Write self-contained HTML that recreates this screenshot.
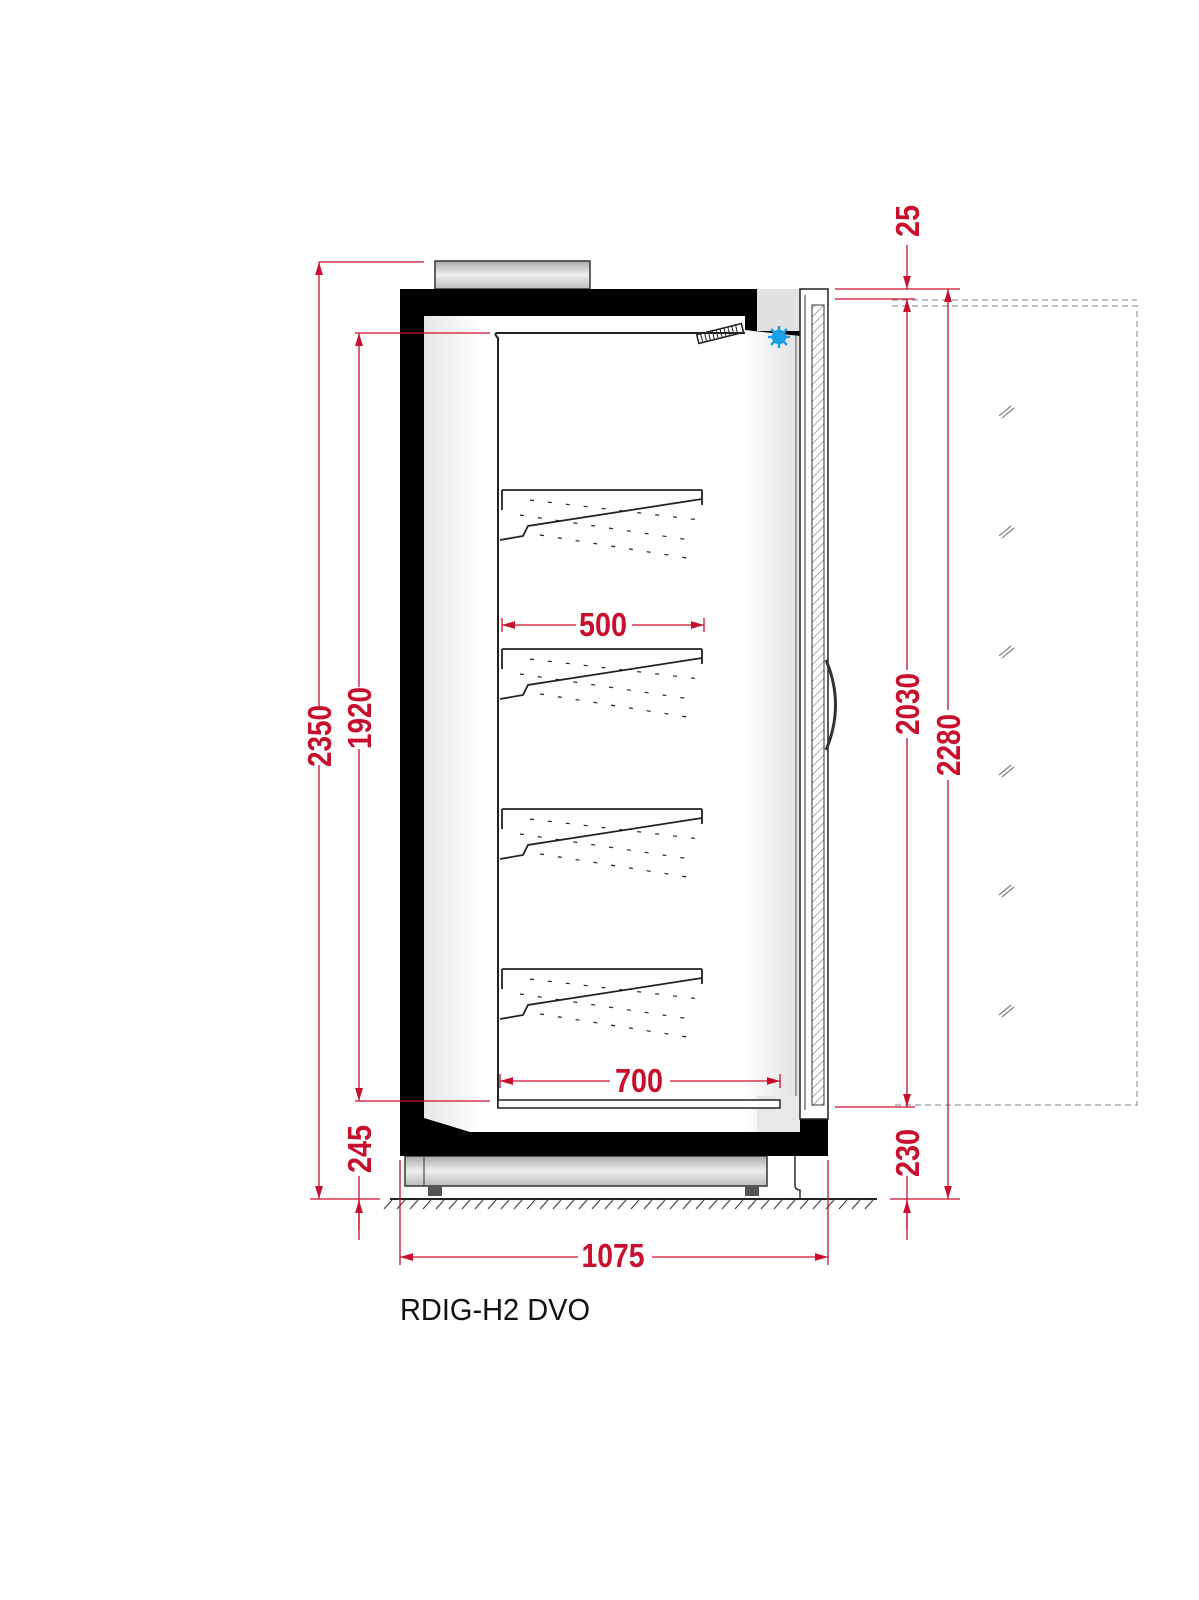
<!DOCTYPE html>
<html><head><meta charset="utf-8"><style>
html,body{margin:0;padding:0;background:#fff;}
svg{display:block;}
.d{font-family:"Liberation Sans",sans-serif;font-weight:bold;fill:#c8102e;font-size:33px;}
</style></head><body>
<svg width="1199" height="1600" viewBox="0 0 1199 1600" xmlns="http://www.w3.org/2000/svg">
<defs>
<linearGradient id="g1" x1="0" y1="0" x2="0" y2="1"><stop offset="0" stop-color="#aaa"/><stop offset="0.5" stop-color="#eee"/><stop offset="1" stop-color="#bbb"/></linearGradient>
<linearGradient id="g2" x1="0" y1="0" x2="1" y2="0"><stop offset="0" stop-color="#e6e6e6"/><stop offset="0.15" stop-color="#fff"/><stop offset="0.85" stop-color="#fff"/><stop offset="1" stop-color="#e0e0e0"/></linearGradient>
<pattern id="hatch" width="6" height="6" patternUnits="userSpaceOnUse" patternTransform="rotate(45)"><line x1="0" y1="0" x2="0" y2="6" stroke="#777" stroke-width="1.2"/></pattern>
<marker id="ar" viewBox="0 0 10 10" refX="10" refY="5" markerWidth="14" markerHeight="10" orient="auto-start-reverse"><path d="M0,2 L10,5 L0,8 z" fill="#c8102e"/></marker>
</defs>

<rect x="435" y="261" width="155" height="28" fill="url(#g1)" stroke="#333" stroke-width="1.5"/>
<rect x="405" y="1156" width="362" height="30" fill="url(#g1)" stroke="#333" stroke-width="1.5"/>
<line x1="424" y1="1156" x2="424" y2="1186" stroke="#333"/>
<rect x="428" y="1186" width="14" height="10" fill="#555"/>
<rect x="745" y="1186" width="14" height="10" fill="#555"/>
<path d="M795,1156 V1185 Q795,1190 800,1190 V1199" fill="none" stroke="#333" stroke-width="1.5"/>

<rect x="400" y="289" width="428" height="867" fill="#000"/>
<path d="M424,316 H745 V330 L800,336 L800,1132 H470 L424,1118 Z" fill="url(#g2)"/>
<rect x="757" y="289" width="43" height="42" fill="#e2e2e2"/>
<rect x="757" y="1096" width="43" height="36" fill="#e8e8e8"/>
<line x1="796" y1="336" x2="796" y2="1096" stroke="#555" stroke-width="1"/>
<rect x="800" y="289" width="28" height="830" fill="#fff" stroke="#222" stroke-width="1.5"/>
<rect x="812" y="305" width="12" height="800" fill="url(#hatch)" stroke="#333" stroke-width="1"/>
<line x1="805" y1="295" x2="805" y2="1110" stroke="#333"/>
<path d="M826,660 Q845,705 826,750" fill="none" stroke="#333" stroke-width="3"/>
<g transform="rotate(-14 720 333)"><rect x="697" y="329" width="46" height="9" fill="#fff" stroke="#222" stroke-width="1.5"/><path d="M701,329v9M705,329v9M709,329v9M713,329v9M717,329v9M721,329v9M725,329v9M729,329v9M733,329v9M737,329v9" stroke="#222"/></g>
<g transform="translate(779 337)" stroke="#1aa0e8" stroke-width="2.5"><circle r="6" fill="#1aa0e8"/><path d="M0,-11V11M-11,0H11M-8,-8L8,8M-8,8L8,-8"/></g>

<path d="M498,1107 V338 Q493,333 498,333 H745" fill="none" stroke="#222" stroke-width="2"/>
<rect x="498" y="1100" width="282" height="8" fill="#fff" stroke="#222" stroke-width="1.5"/>

<g id="sh" fill="none" stroke="#222" stroke-width="1.8">
<line x1="502" y1="490" x2="702" y2="490"/>
<line x1="502" y1="490" x2="502" y2="510"/>
<line x1="702" y1="490" x2="702" y2="505"/>
<path d="M702,499 L528,526 L523,536 L500,540"/>
<g stroke-width="1.2" stroke-dasharray="4 14"><path d="M530,500 L700,520"/><path d="M540,535 L700,560"/><path d="M520,515 L690,540"/></g>
</g>
<use href="#sh" y="159"/>
<use href="#sh" y="319"/>
<use href="#sh" y="479"/>

<line x1="390" y1="1199" x2="877" y2="1199" stroke="#222" stroke-width="2"/>
<g stroke="#444" stroke-width="1.2">
<path d="M392,1200l-8,9M405,1200l-8,9M418,1200l-8,9M431,1200l-8,9M444,1200l-8,9M457,1200l-8,9M470,1200l-8,9M483,1200l-8,9M496,1200l-8,9M509,1200l-8,9M522,1200l-8,9M535,1200l-8,9M548,1200l-8,9M561,1200l-8,9M574,1200l-8,9M587,1200l-8,9M600,1200l-8,9M613,1200l-8,9M626,1200l-8,9M639,1200l-8,9M652,1200l-8,9M665,1200l-8,9M678,1200l-8,9M691,1200l-8,9M704,1200l-8,9M717,1200l-8,9M730,1200l-8,9M743,1200l-8,9M756,1200l-8,9M769,1200l-8,9M782,1200l-8,9M795,1200l-8,9M808,1200l-8,9M821,1200l-8,9M834,1200l-8,9M847,1200l-8,9M860,1200l-8,9M873,1200l-8,9"/>
</g>

<g fill="none" stroke="#999" stroke-width="1.2" stroke-dasharray="6 4">
<path d="M892,300 H1137"/><path d="M892,306 H1137 V1105 H892"/>
</g>
<g stroke="#666" stroke-width="1">
<path d="M999,416l12,-10M1002,418l12,-10"/><path d="M999,536l12,-10M1002,538l12,-10"/><path d="M999,656l12,-10M1002,658l12,-10"/><path d="M999,775l12,-10M1002,777l12,-10"/><path d="M999,895l12,-10M1002,897l12,-10"/><path d="M999,1015l12,-10M1002,1017l12,-10"/>
</g>

<g stroke="#c8102e" stroke-width="1.3" fill="none">
<line x1="319" y1="262" x2="424" y2="262"/>
<line x1="355" y1="333" x2="490" y2="333"/>
<line x1="355" y1="1101" x2="490" y2="1101"/>
<line x1="310" y1="1199" x2="380" y2="1199"/>
<line x1="319" y1="262" x2="319" y2="708" marker-start="url(#ar)"/>
<line x1="319" y1="765" x2="319" y2="1199" marker-end="url(#ar)"/>
<line x1="359" y1="333" x2="359" y2="687" marker-start="url(#ar)"/>
<line x1="359" y1="749" x2="359" y2="1101" marker-end="url(#ar)"/>
<line x1="359" y1="1176" x2="359" y2="1240"/>
<line x1="359" y1="1230" x2="359" y2="1200" marker-end="url(#ar)"/>
<line x1="400" y1="1160" x2="400" y2="1265"/>
<line x1="828" y1="1160" x2="828" y2="1265"/>
<line x1="400" y1="1257" x2="578" y2="1257" marker-start="url(#ar)"/>
<line x1="652" y1="1257" x2="828" y2="1257" marker-end="url(#ar)"/>
<line x1="502" y1="618" x2="502" y2="632"/><line x1="704" y1="618" x2="704" y2="632"/>
<line x1="502" y1="625" x2="576" y2="625" marker-start="url(#ar)"/>
<line x1="632" y1="625" x2="704" y2="625" marker-end="url(#ar)"/>
<line x1="500" y1="1074" x2="500" y2="1088"/><line x1="780" y1="1074" x2="780" y2="1088"/>
<line x1="500" y1="1081" x2="610" y2="1081" marker-start="url(#ar)"/>
<line x1="670" y1="1081" x2="780" y2="1081" marker-end="url(#ar)"/>
<line x1="835" y1="289" x2="960" y2="289"/>
<line x1="835" y1="299" x2="915" y2="299"/>
<line x1="835" y1="1107" x2="915" y2="1107"/>
<line x1="890" y1="1199" x2="960" y2="1199"/>
<line x1="907" y1="245" x2="907" y2="289" marker-end="url(#ar)"/>
<line x1="907" y1="299" x2="907" y2="670" marker-start="url(#ar)"/>
<line x1="907" y1="738" x2="907" y2="1107" marker-end="url(#ar)"/>
<line x1="907" y1="1176" x2="907" y2="1240"/>
<line x1="907" y1="1230" x2="907" y2="1200" marker-end="url(#ar)"/>
<line x1="948" y1="289" x2="948" y2="710" marker-start="url(#ar)"/>
<line x1="948" y1="780" x2="948" y2="1199" marker-end="url(#ar)"/>
</g>

<text class="d" x="613" y="1267" text-anchor="middle" textLength="63" lengthAdjust="spacingAndGlyphs">1075</text>
<text class="d" x="603" y="636" text-anchor="middle" textLength="48" lengthAdjust="spacingAndGlyphs">500</text>
<text class="d" x="639" y="1092" text-anchor="middle" textLength="48" lengthAdjust="spacingAndGlyphs">700</text>
<text class="d" transform="translate(331 736) rotate(-90)" text-anchor="middle" textLength="62" lengthAdjust="spacingAndGlyphs">2350</text>
<text class="d" transform="translate(371 718) rotate(-90)" text-anchor="middle" textLength="62" lengthAdjust="spacingAndGlyphs">1920</text>
<text class="d" transform="translate(371 1149) rotate(-90)" text-anchor="middle" textLength="48" lengthAdjust="spacingAndGlyphs">245</text>
<text class="d" transform="translate(919 221) rotate(-90)" text-anchor="middle" textLength="32" lengthAdjust="spacingAndGlyphs">25</text>
<text class="d" transform="translate(919 704) rotate(-90)" text-anchor="middle" textLength="62" lengthAdjust="spacingAndGlyphs">2030</text>
<text class="d" transform="translate(960 745) rotate(-90)" text-anchor="middle" textLength="62" lengthAdjust="spacingAndGlyphs">2280</text>
<text class="d" transform="translate(919 1153) rotate(-90)" text-anchor="middle" textLength="48" lengthAdjust="spacingAndGlyphs">230</text>

<text x="400" y="1320" font-family="Liberation Sans, sans-serif" font-size="31" fill="#111" textLength="190" lengthAdjust="spacingAndGlyphs">RDIG-H2 DVO</text>
</svg>
</body></html>
